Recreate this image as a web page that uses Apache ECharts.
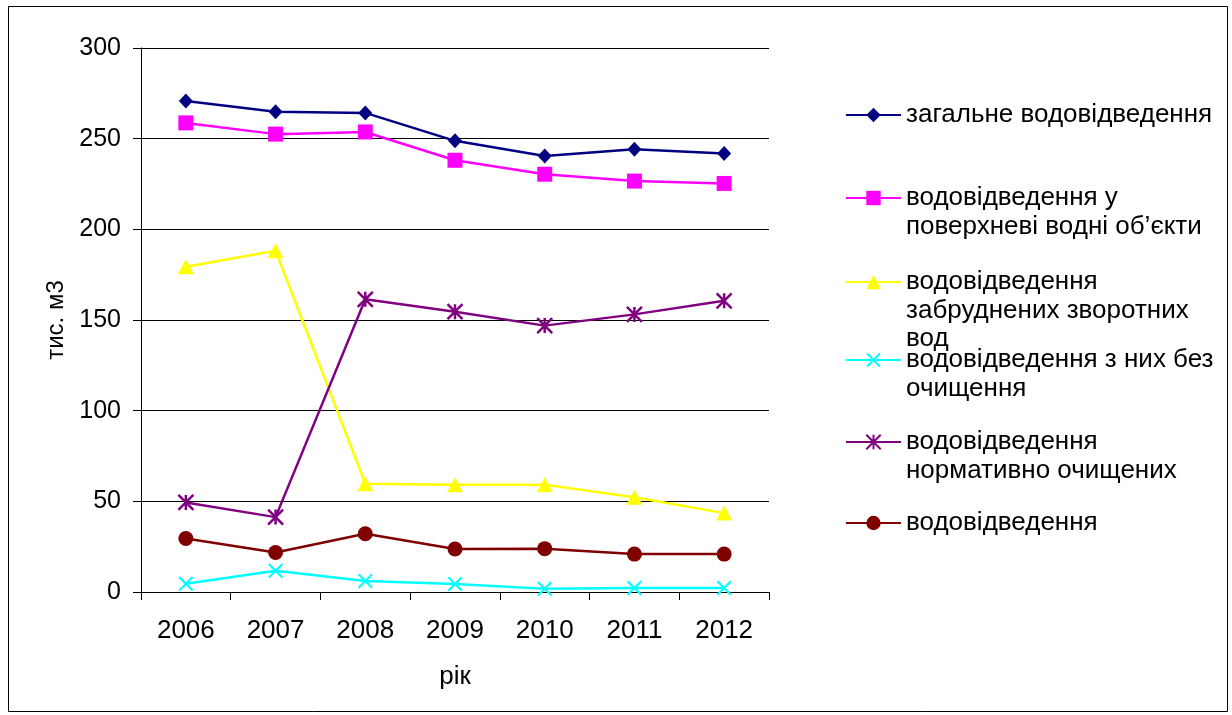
<!DOCTYPE html>
<html lang="uk">
<head>
  <meta charset="UTF-8">
  <title>Водовідведення</title>
  <script src="https://cdn.jsdelivr.net/npm/echarts@6.0.0/dist/echarts.min.js"></script>
  <style>
    html, body { margin: 0; padding: 0; background: #fff; }
    #main { width: 1232px; height: 715px; }
  </style>
</head>
<body>
  <div id="main"></div>
  <script>
    // роки
    const years = ['2006', '2007', '2008', '2009', '2010', '2011', '2012'];

    // значення, тис. м3
    const total      = [270.8, 264.8, 264.2, 248.8, 240.5, 244.2, 241.8];
    const surface    = [258.7, 252.5, 253.7, 238.1, 230.4, 226.6, 225.3];
    const polluted   = [179.4, 188.2, 59.7, 59.1, 59.1, 52.3, 43.5];
    const untreated  = [4.6, 11.7, 6.1, 4.4, 1.8, 2.2, 2.2];
    const normTreat  = [49.4, 41.3, 161.4, 154.6, 146.9, 153.1, 160.6];
    const otherDisch = [29.5, 21.8, 32.1, 23.7, 23.9, 20.9, 20.9];

    const names = [
      'загальне водовідведення',
      'водовідведення у\nповерхневі водні об’єкти',
      'водовідведення\nзабруднених зворотних\nвод',
      'водовідведення з них без\nочищення',
      'водовідведення\nнормативно очищених',
      'водовідведення'
    ];

    const FONT = 'Liberation Sans, Arial, sans-serif';
    const LH = 28.5;
    // центри іконок легенди по вертикалі
    const legendCenters = [115, 198, 282, 360, 442, 523];

    const xPath = 'path://M0,1L1,0L5,4L9,0L10,1L6,5L10,9L9,10L5,6L1,10L0,9L4,5Z';
    const starPath = 'path://M0,0L10,10M10,0L0,10M5,0L5,10';

    let chart = echarts.init(document.getElementById('main'));

    // окрема легенда для кожного ряду, щоб іконка стояла біля першого рядка:
    // зверху додаються порожні рядки, тож перший рядок опиняється по центру
    const legends = names.map((name, i) => {
      const n = name.split('\n').length;
      return {
        left: 845,
        top: legendCenters[i] - (2 * n - 1) * LH / 2,
        padding: 0,
        itemWidth: 55,
        itemHeight: 18,
        data: [name],
        selectedMode: false,
        formatter: function (nm) {
          return '\n'.repeat(n - 1) + nm;
        },
        textStyle: {
          fontFamily: FONT,
          fontSize: 26,
          color: '#000',
          lineHeight: LH,
          backgroundColor: 'rgba(0,0,0,0)'
        }
      };
    });

    function lineSeries(name, data, color, symbol, size, extra) {
      return Object.assign({
        name: name,
        type: 'line',
        data: data,
        symbol: symbol,
        symbolSize: size,
        color: color,
        lineStyle: { color: color, width: 2.5 },
        itemStyle: { color: color },
        emphasis: { disabled: true }
      }, extra || {});
    }

    let option = {
      animation: false,
      backgroundColor: '#fff',
      textStyle: { fontFamily: FONT },
      graphic: [{
        type: 'rect',
        shape: { x: 8.5, y: 6.5, width: 1219, height: 705 },
        style: { fill: 'none', stroke: '#000', lineWidth: 1 },
        silent: true
      }],
      legend: legends,
      grid: { left: 141, right: 463, top: 48, bottom: 123 },
      xAxis: {
        type: 'category',
        data: years,
        boundaryGap: true,
        name: 'рік',
        nameLocation: 'middle',
        nameGap: 72,
        nameTextStyle: { fontFamily: FONT, fontSize: 26, color: '#000' },
        axisLine: { lineStyle: { color: '#000', width: 1 } },
        axisTick: { show: true, length: 8, lineStyle: { color: '#000' } },
        axisLabel: { fontFamily: FONT, fontSize: 26, color: '#000', margin: 26 },
        splitLine: { show: false }
      },
      yAxis: {
        type: 'value',
        min: 0,
        max: 300,
        interval: 50,
        name: 'тис. м3',
        nameLocation: 'middle',
        nameGap: 68,
        nameTextStyle: { fontFamily: FONT, fontSize: 24, color: '#000' },
        axisLine: { show: true, lineStyle: { color: '#000', width: 1 } },
        axisTick: { show: true, length: 8, lineStyle: { color: '#000' } },
        axisLabel: { fontFamily: FONT, fontSize: 25, color: '#000', margin: 20 },
        splitLine: { show: true, lineStyle: { color: '#000', width: 1 } }
      },
      series: [
        lineSeries(names[0], total, '#000080', 'diamond', [14, 15]),
        lineSeries(names[1], surface, '#FF00FF', 'rect', 15),
        lineSeries(names[2], polluted, '#FFFF00', 'triangle', [16, 15]),
        lineSeries(names[3], untreated, '#00FFFF', xPath, 15),
        lineSeries(names[4], normTreat, '#800080', starPath, 15, {
          itemStyle: { color: '#800080', borderColor: '#800080', borderWidth: 2.5 }
        }),
        lineSeries(names[5], otherDisch, '#800000', 'circle', 15)
      ]
    };

    chart.setOption(option);

    window.addEventListener('resize', function () {
      chart.resize();
    });
  </script>
</body>
</html>
